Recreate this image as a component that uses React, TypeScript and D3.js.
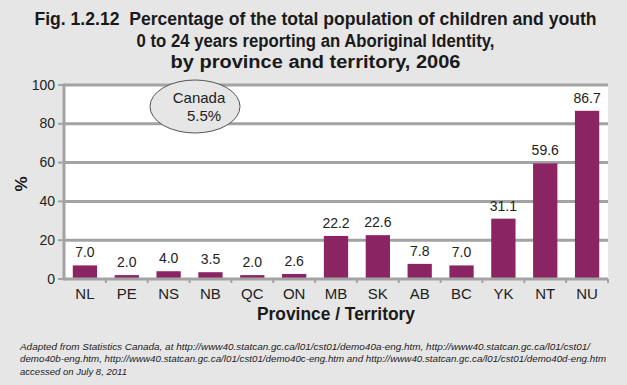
import * as d3 from "d3";

const provinces = ["NL", "PE", "NS", "NB", "QC", "ON", "MB", "SK", "AB", "BC", "YK", "NT", "NU"];
const percentages = [7.0, 2.0, 4.0, 3.5, 2.0, 2.6, 22.2, 22.6, 7.8, 7.0, 31.1, 59.6, 86.7];
const yTicks = [0, 20, 40, 60, 80, 100];
const titleLines = [
  "Fig. 1.2.12  Percentage of the total population of children and youth",
  "0 to 24 years reporting an Aboriginal Identity,",
  "by province and territory, 2006",
];
const sourceLines = [
  "Adapted from Statistics Canada, at http://www40.statcan.gc.ca/l01/cst01/demo40a-eng.htm, http://www40.statcan.gc.ca/l01/cst01/",
  "demo40b-eng.htm, http://www40.statcan.gc.ca/l01/cst01/demo40c-eng.htm and http://www40.statcan.gc.ca/l01/cst01/demo40d-eng.htm",
  "accessed on July 8, 2011",
];

const W = 627;
const H = 385;
const left = 64;
const right = 608;
const top = 85;
const bottom = 279;
const barColor = "#8b2462";
const gridColor = "#a3a3a3";
const font = "'Liberation Sans Narrow', 'Liberation Sans', Arial, sans-serif";

export default function App() {
  const x = d3.scaleBand<string>().domain(provinces).range([left, right]).paddingInner(0.42).paddingOuter(0.21);
  const y = d3.scaleLinear().domain([0, 100]).range([bottom, top]);
  const step = x.step();

  const titleWidths = [562, 358, 290];
  const sourceWidths = [570, 586, 107];

  return (
    <svg width={W} height={H} style={{ position: "absolute", left: 0, top: 0, background: "#e6e6e6" }}>
      <rect width={W} height={H} fill="#e6e6e6" />
      {titleLines.map((t, i) => (
        <text
          key={i}
          x={W / 2 + 2}
          y={25 + i * 21.5}
          textAnchor="middle"
          fontFamily={font}
          fontWeight="bold"
          fontSize={17.5}
          fill="#1a1a1a"
          textLength={titleWidths[i]}
          lengthAdjust="spacingAndGlyphs"
          style={{ whiteSpace: "pre" }}
        >
          {t}
        </text>
      ))}

      <rect x={left} y={top} width={right - left} height={bottom - top} fill="#ffffff" />

      {yTicks.map((t) => (
        <g key={t}>
          {t > 0 && <line x1={left} x2={right} y1={y(t)} y2={y(t)} stroke={gridColor} strokeWidth={3} />}
          <line x1={left - 6} x2={left} y1={y(t)} y2={y(t)} stroke={gridColor} strokeWidth={2} />
          <text x={left - 9} y={y(t) + 4.5} textAnchor="end" fontFamily={font} fontSize={14} fill="#222">
            {t}
          </text>
        </g>
      ))}

      {provinces.map((p, i) => (
        <g key={p}>
          <rect
            x={x(p)}
            y={y(percentages[i])}
            width={x.bandwidth()}
            height={bottom - y(percentages[i])}
            fill={barColor}
          />
          <text
            x={(x(p) ?? 0) + x.bandwidth() / 2}
            y={y(percentages[i]) - 8}
            textAnchor="middle"
            fontFamily={font}
            fontSize={14}
            fill="#222"
          >
            {percentages[i].toFixed(1)}
          </text>
          <text
            x={(x(p) ?? 0) + x.bandwidth() / 2}
            y={bottom + 20}
            textAnchor="middle"
            fontFamily={font}
            fontSize={15}
            fill="#222"
          >
            {p}
          </text>
          {i > 0 && (
            <line x1={left + step * i} x2={left + step * i} y1={bottom} y2={bottom + 4} stroke={gridColor} strokeWidth={2} />
          )}
        </g>
      ))}

      <line x1={left} x2={left} y1={top - 1.5} y2={bottom + 1.5} stroke={gridColor} strokeWidth={3} />
      <line x1={left} x2={right} y1={bottom} y2={bottom} stroke={gridColor} strokeWidth={3} />
      <line x1={right} x2={right} y1={bottom} y2={bottom + 4} stroke={gridColor} strokeWidth={2} />

      <ellipse cx={195} cy={106.5} rx={45} ry={26.5} fill="#e6e6e6" stroke="#555" strokeWidth={1} />
      <text x={199} y={103} textAnchor="middle" fontFamily={font} fontSize={15} fill="#222">
        Canada
      </text>
      <text x={204} y={121} textAnchor="middle" fontFamily={font} fontSize={15} fill="#222">
        5.5%
      </text>

      <text
        transform={`translate(27,${(top + bottom) / 2 + 2}) rotate(-90)`}
        textAnchor="middle"
        fontFamily={font}
        fontWeight="bold"
        fontSize={17}
        fill="#1a1a1a"
      >
        %
      </text>
      <text
        x={(left + right) / 2}
        y={320}
        textAnchor="middle"
        fontFamily={font}
        fontWeight="bold"
        fontSize={18}
        fill="#1a1a1a"
        textLength={158}
        lengthAdjust="spacingAndGlyphs"
      >
        Province / Territory
      </text>

      {sourceLines.map((t, i) => (
        <text
          key={i}
          x={20}
          y={349.5 + i * 12.7}
          fontFamily={font}
          fontStyle="italic"
          fontSize={9.3}
          fill="#222"
          textLength={sourceWidths[i]}
          lengthAdjust="spacingAndGlyphs"
        >
          {t}
        </text>
      ))}
    </svg>
  );
}
